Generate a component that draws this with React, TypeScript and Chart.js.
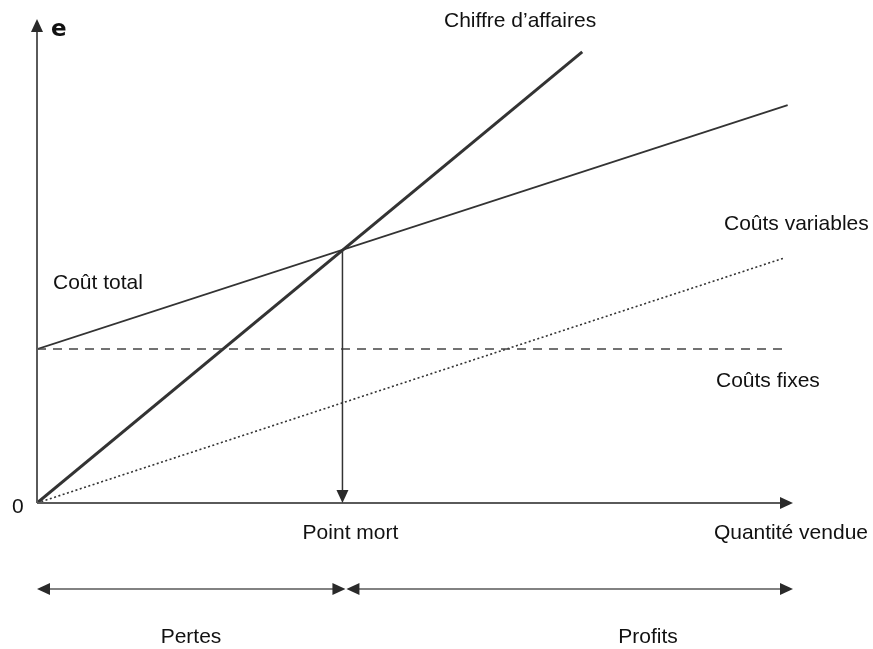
import React, { useEffect, useRef } from "react";
import { Chart, registerables } from "chart.js";

Chart.register(...registerables);

// ---- Data (abstract units) ----
const X_MAX = 99;
const Y_MAX = 100;
const breakEvenQty = 40;
const breakEvenValue = 52.3;

const revenueX = [0, 71.4];
const revenueY = [0, 93.2];
const totalCostX = [0, 98.3];
const totalCostY = [31.8, 82.2];
const fixedCostX = [0, 98.3];
const fixedCostY = [31.8, 31.8];
const variableCostX = [0, 97.8];
const variableCostY = [0, 50.6];

const seriesLabels = ["Chiffre d’affaires", "Coût total", "Coûts fixes", "Coûts variables"];
const axisLabelY = "e";
const axisLabelX = "Quantité vendue";
const originLabel = "0";
const breakEvenLabel = "Point mort";
const zoneLabels = ["Pertes", "Profits"];

const toPoints = (xs: number[], ys: number[]) => xs.map((x, i) => ({ x, y: ys[i] }));

const FONT = '21px "Liberation Sans", Arial, Helvetica, sans-serif';
const BOLD_FONT = 'bold 23px "DejaVu Sans", "Liberation Sans", sans-serif';

function arrowHead(ctx: CanvasRenderingContext2D, tx: number, ty: number, dir: "up" | "down" | "left" | "right", len = 13, half = 6) {
  ctx.beginPath();
  ctx.moveTo(tx, ty);
  if (dir === "up") {
    ctx.lineTo(tx - half, ty + len);
    ctx.lineTo(tx + half, ty + len);
  } else if (dir === "down") {
    ctx.lineTo(tx - half, ty - len);
    ctx.lineTo(tx + half, ty - len);
  } else if (dir === "right") {
    ctx.lineTo(tx - len, ty - half);
    ctx.lineTo(tx - len, ty + half);
  } else {
    ctx.lineTo(tx + len, ty - half);
    ctx.lineTo(tx + len, ty + half);
  }
  ctx.closePath();
  ctx.fill();
}

const decorPlugin = {
  id: "decor",
  afterDatasetsDraw(chart: any) {
    const ctx: CanvasRenderingContext2D = chart.ctx;
    const xs = chart.scales.x;
    const ys = chart.scales.y;
    const x0 = xs.getPixelForValue(0);
    const xEnd = xs.getPixelForValue(X_MAX);
    const y0 = ys.getPixelForValue(0);
    const yTop = ys.getPixelForValue(Y_MAX);
    const bx = xs.getPixelForValue(breakEvenQty);
    const by = ys.getPixelForValue(breakEvenValue);

    ctx.save();
    // axes
    ctx.strokeStyle = "#5a5a5a";
    ctx.fillStyle = "#2a2a2a";
    ctx.lineWidth = 2;
    ctx.beginPath();
    ctx.moveTo(x0, y0);
    ctx.lineTo(x0, yTop + 8);
    ctx.moveTo(x0, y0);
    ctx.lineTo(xEnd - 8, y0);
    ctx.stroke();
    arrowHead(ctx, x0, yTop, "up");
    arrowHead(ctx, xEnd, y0, "right");

    // break-even vertical arrow
    ctx.strokeStyle = "#333";
    ctx.lineWidth = 1.5;
    ctx.beginPath();
    ctx.moveTo(bx, by);
    ctx.lineTo(bx, y0 - 8);
    ctx.stroke();
    arrowHead(ctx, bx, y0, "down");

    // double arrows below
    const ya = y0 + 86;
    ctx.strokeStyle = "#5a5a5a";
    ctx.lineWidth = 1.5;
    ctx.beginPath();
    ctx.moveTo(x0 + 8, ya);
    ctx.lineTo(bx - 8, ya);
    ctx.moveTo(bx + 12, ya);
    ctx.lineTo(xEnd - 8, ya);
    ctx.stroke();
    ctx.fillStyle = "#2a2a2a";
    arrowHead(ctx, x0, ya, "left");
    arrowHead(ctx, bx + 3, ya, "right");
    arrowHead(ctx, bx + 4, ya, "left");
    arrowHead(ctx, xEnd, ya, "right");

    // texts
    ctx.fillStyle = "#111";
    ctx.textBaseline = "middle";
    ctx.textAlign = "left";
    ctx.font = BOLD_FONT;
    ctx.fillText(axisLabelY, x0 + 14, yTop + 11);
    ctx.font = FONT;
    ctx.fillText(seriesLabels[0], 444, 21);
    ctx.fillText(seriesLabels[3], 724, 224);
    ctx.fillText(seriesLabels[1], 53, 283);
    ctx.fillText(seriesLabels[2], 716, 381);
    ctx.fillText(originLabel, x0 - 25, y0 + 4);
    ctx.textAlign = "center";
    ctx.fillText(breakEvenLabel, bx + 8, y0 + 30);
    ctx.textAlign = "right";
    ctx.fillText(axisLabelX, 868, y0 + 30);
    ctx.textAlign = "center";
    ctx.fillText(zoneLabels[0], 191, y0 + 134);
    ctx.fillText(zoneLabels[1], 648, y0 + 134);
    ctx.restore();
  },
};

export default function App() {
  const ref = useRef<HTMLCanvasElement | null>(null);
  useEffect(() => {
    if (!ref.current) return;
    const chart = new Chart(ref.current, {
      type: "scatter",
      data: {
        datasets: [
          {
            label: seriesLabels[2],
            data: toPoints(fixedCostX, fixedCostY),
            showLine: true,
            borderColor: "#444",
            borderWidth: 1.5,
            borderDash: [9, 7],
            pointRadius: 0,
          },
          {
            label: seriesLabels[3],
            data: toPoints(variableCostX, variableCostY),
            showLine: true,
            borderColor: "#333",
            borderWidth: 1.6,
            borderDash: [2, 2.5],
            pointRadius: 0,
          },
          {
            label: seriesLabels[1],
            data: toPoints(totalCostX, totalCostY),
            showLine: true,
            borderColor: "#333",
            borderWidth: 1.8,
            pointRadius: 0,
          },
          {
            label: seriesLabels[0],
            data: toPoints(revenueX, revenueY),
            showLine: true,
            borderColor: "#333",
            borderWidth: 3,
            pointRadius: 0,
          },
        ],
      },
      options: {
        responsive: false,
        animation: false,
        events: [],
        layout: { padding: { left: 37, right: 80, top: 19, bottom: 146 } },
        plugins: { legend: { display: false }, tooltip: { enabled: false } },
        scales: {
          x: { type: "linear", min: 0, max: X_MAX, display: false },
          y: { type: "linear", min: 0, max: Y_MAX, display: false },
        },
      },
      plugins: [decorPlugin],
    });
    return () => chart.destroy();
  }, []);
  return (
    <div style={{ position: "fixed", left: 0, top: 0, width: 873, height: 649, background: "#fff" }}>
      <canvas ref={ref} width={873} height={649} style={{ display: "block" }} />
    </div>
  );
}
